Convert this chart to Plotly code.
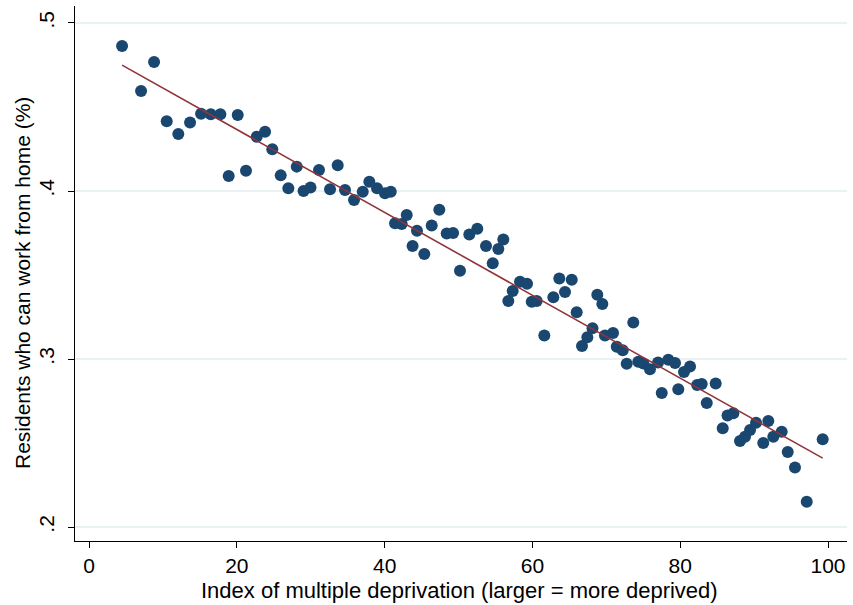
import numpy as np
import plotly.graph_objects as go

# Index of multiple deprivation (percentile bins)
imd = [4.47, 7.04, 8.80, 10.51, 12.08, 13.67, 15.16, 16.47, 17.77, 18.90,
       20.12, 21.24, 22.69, 23.82, 24.80, 25.94, 26.97, 28.11, 29.03, 29.97,
       31.12, 32.61, 33.65, 34.64, 35.86, 37.04, 37.93, 38.97, 40.05, 40.83,
       41.41, 42.31, 42.99, 43.78, 44.38, 45.37, 46.37, 47.40, 48.40, 49.26,
       50.20, 51.46, 52.54, 53.72, 54.63, 55.39, 56.06, 56.74, 57.33, 58.32,
       59.27, 59.91, 60.58, 61.61, 62.83, 63.64, 64.41, 65.32, 65.99, 66.71,
       67.43, 68.13, 68.78, 69.46, 69.82, 70.91, 71.41, 72.22, 72.76, 73.65,
       74.33, 75.01, 75.91, 77.00, 77.50, 78.39, 79.30, 79.74, 80.51, 81.33,
       82.29, 82.91, 83.59, 84.80, 85.75, 86.40, 87.19, 88.09, 88.77, 89.45,
       90.26, 91.24, 91.92, 92.60, 93.73, 94.55, 95.53, 97.12, 99.28]

# Share of residents who can work from home
wfh = [0.4863, 0.4595, 0.4768, 0.4415, 0.4339, 0.4407, 0.4460, 0.4457, 0.4457, 0.4089,
       0.4452, 0.4121, 0.4323, 0.4353, 0.4248, 0.4093, 0.4016, 0.4145, 0.4000, 0.4021,
       0.4125, 0.4010, 0.4153, 0.4006, 0.3946, 0.3996, 0.4055, 0.4016, 0.3986, 0.3996,
       0.3808, 0.3804, 0.3857, 0.3673, 0.3764, 0.3625, 0.3795, 0.3889, 0.3747, 0.3750,
       0.3526, 0.3741, 0.3776, 0.3673, 0.3570, 0.3655, 0.3711, 0.3345, 0.3405, 0.3460,
       0.3448, 0.3341, 0.3345, 0.3140, 0.3367, 0.3479, 0.3399, 0.3472, 0.3278, 0.3077,
       0.3129, 0.3183, 0.3383, 0.3327, 0.3140, 0.3155, 0.3073, 0.3052, 0.2972, 0.3217,
       0.2984, 0.2974, 0.2939, 0.2980, 0.2798, 0.2996, 0.2976, 0.2820, 0.2923, 0.2955,
       0.2845, 0.2851, 0.2738, 0.2855, 0.2588, 0.2664, 0.2677, 0.2512, 0.2538, 0.2577,
       0.2621, 0.2500, 0.2631, 0.2538, 0.2567, 0.2446, 0.2355, 0.2151, 0.2522]

x_ticks = [0, 20, 40, 60, 80, 100]
y_ticks = [0.2, 0.3, 0.4, 0.5]
y_tick_text = [".2", ".3", ".4", ".5"]

x_title = "Index of multiple deprivation (larger = more deprived)"
y_title = "Residents who can work from home (%)"

# Linear fit over the data range
slope, intercept = np.polyfit(imd, wfh, 1)
fit_x = [min(imd), max(imd)]
fit_y = [intercept + slope * v for v in fit_x]

font_family = "Liberation Sans, Arial, sans-serif"
W, H = 853, 605
ML, MR, MT, MB = 75, 6, 6, 64
PW, PH = W - ML - MR, H - MT - MB

fig = go.Figure()
fig.add_trace(go.Scatter(
    x=imd, y=wfh, mode="markers",
    marker=dict(color="#1a476f", size=12, line=dict(width=0)),
    showlegend=False, hoverinfo="skip",
))
fig.add_trace(go.Scatter(
    x=fit_x, y=fit_y, mode="lines",
    line=dict(color="#90353b", width=1.6),
    showlegend=False, hoverinfo="skip",
))

fig.update_layout(
    width=W, height=H,
    margin=dict(l=ML, r=MR, t=MT, b=MB, autoexpand=False),
    paper_bgcolor="white", plot_bgcolor="white",
    font=dict(family=font_family, size=21, color="black"),
)
fig.update_xaxes(
    range=[-1.9, 102.57],
    tickvals=x_ticks,
    showgrid=False, zeroline=False,
    showline=True, linecolor="black", linewidth=1,
    ticks="outside", ticklen=6, tickcolor="black",
    tickfont=dict(size=21),
    automargin=False,
)
fig.update_yaxes(
    range=[0.1917, 0.5101],
    tickvals=y_ticks, ticktext=y_tick_text,
    tickangle=-90,
    showgrid=True, gridcolor="#eaf2f3", gridwidth=2,
    zeroline=False,
    showline=True, linecolor="black", linewidth=1,
    ticks="outside", ticklen=6, tickcolor="black",
    tickfont=dict(size=21),
    ticklabelstandoff=6,
    automargin=False,
)

# Axis titles placed as annotations in pixel-equivalent paper coordinates
fig.add_annotation(
    text=x_title, xref="paper", yref="paper",
    x=(459 - ML) / PW, y=-(590 - (MT + PH)) / PH,
    showarrow=False, font=dict(size=22), xanchor="center", yanchor="middle",
)
fig.add_annotation(
    text=y_title, xref="paper", yref="paper",
    x=(22 - ML) / PW, y=(MT + PH - 283) / PH,
    showarrow=False, font=dict(size=21), textangle=-90,
    xanchor="center", yanchor="middle",
)

fig.write_html(
    "out.html",
    config={"displayModeBar": False, "staticPlot": True},
    post_script="document.body.style.margin='0';document.body.style.overflow='hidden';",
)
